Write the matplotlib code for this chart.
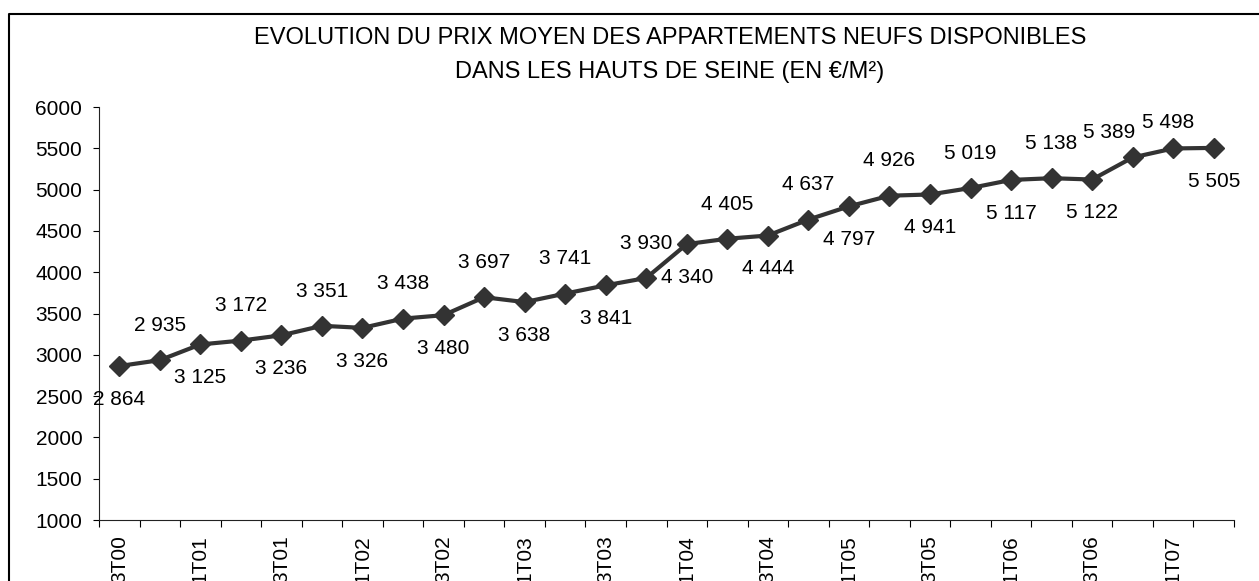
import matplotlib.pyplot as plt
from matplotlib.lines import Line2D

plt.rcParams['font.family'] = ['Liberation Sans', 'DejaVu Sans']

# quarters (one point per quarter), labels shown every other quarter
quarters = ['3T00', '4T00', '1T01', '2T01', '3T01', '4T01', '1T02', '2T02',
            '3T02', '4T02', '1T03', '2T03', '3T03', '4T03', '1T04', '2T04',
            '3T04', '4T04', '1T05', '2T05', '3T05', '4T05', '1T06', '2T06',
            '3T06', '4T06', '1T07', '2T07']
prices = [2864, 2935, 3125, 3172, 3236, 3351, 3326, 3438, 3480, 3697, 3638,
          3741, 3841, 3930, 4340, 4405, 4444, 4637, 4797, 4926, 4941, 5019,
          5117, 5138, 5122, 5389, 5498, 5505]
# where Excel put each data label
label_side = ['below', 'above'] * 13 + ['above', 'below']

yticks = [1000, 1500, 2000, 2500, 3000, 3500, 4000, 4500, 5000, 5500, 6000]

fig = plt.figure(figsize=(12.59, 5.81), dpi=100)
W, H = 1259, 581
ax = fig.add_axes([99 / W, 1 - 520 / H, (1234 - 99) / W, (520 - 107) / H])

x = list(range(len(prices)))
ax.plot(x, prices, color='#333333', lw=3, marker='D', ms=10,
        markerfacecolor='#333333', markeredgecolor='#333333', zorder=3)

# the last labels sit closer, nudged like in the original
nudge = {25: (-17, 18), 26: (-4, 19)}
for xi, v, side in zip(x, prices, label_side):
    txt = f"{v:,}".replace(",", " ")
    dy = 25 if side == 'above' else -24
    off = nudge.get(xi, (0, dy))
    ax.annotate(txt, (xi, v), xytext=off, textcoords='offset points',
                ha='center', va='center', fontsize=15, color='black')

ax.set_xlim(-0.5, len(prices) - 0.5)
ax.set_ylim(1000, 6000)
ax.set_yticks(yticks)
ax.tick_params(axis='y', length=4, pad=8, labelsize=15, direction='out')

# tick marks between categories, labels on every other category
ax.set_xticks([i - 0.5 for i in range(len(prices) + 1)])
ax.set_xticklabels([])
ax.set_xticks(x[::2], minor=True)
ax.set_xticklabels(quarters[::2], minor=True, rotation=90, fontsize=15)
ax.tick_params(axis='x', which='major', length=5, direction='out')
ax.tick_params(axis='x', which='minor', length=0, pad=11)

for s in ['top', 'right']:
    ax.spines[s].set_visible(False)
for s in ['left', 'bottom']:
    ax.spines[s].set_color('#222222')

fig.text(670 / W, 1 - 38 / H, 'EVOLUTION DU PRIX MOYEN DES APPARTEMENTS NEUFS DISPONIBLES',
         ha='center', va='center', fontsize=17)
fig.text(670 / W, 1 - 72 / H, 'DANS LES HAUTS DE SEINE (EN €/M²)',
         ha='center', va='center', fontsize=17)

# chart area border (cut off at the bottom and right)
fig.add_artist(Line2D([9 / W, 9 / W, 1.0], [0.0, 1 - 14 / H, 1 - 14 / H],
                      transform=fig.transFigure, color='black', lw=1.5))

fig.savefig('out.png', dpi=100)
